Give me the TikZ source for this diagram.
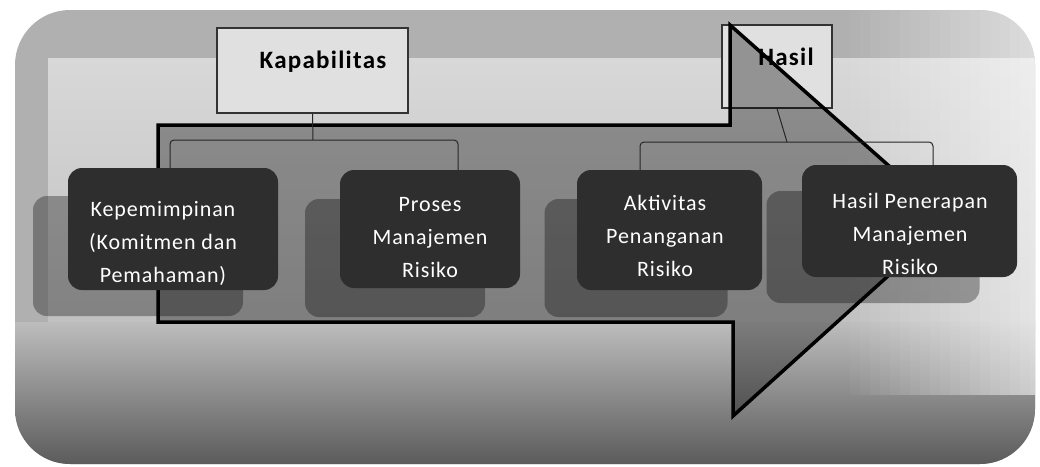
\documentclass[tikz,border=0pt]{standalone}
\usepackage{fontspec}
\setmainfont{Carlito}
\newfontfamily\boxfont[LetterSpace=4]{Carlito}
\newfontfamily\headfont[LetterSpace=5]{Carlito}
\usetikzlibrary{calc}
\definecolor{panelbase}{HTML}{B0B0B0}
\definecolor{panelA}{HTML}{D8D8D8}
\definecolor{panelB}{HTML}{C0C0C0}
\definecolor{panelC}{HTML}{BDBDBD}
\definecolor{panelD}{HTML}{5A5A5A}
\definecolor{boxdark}{HTML}{2E2E2E}
\definecolor{headfill}{HTML}{E0E0E0}
\begin{document}
\begin{tikzpicture}[x=1pt,y=1pt,
  box/.style={fill=boxdark, rounded corners=14pt, inner sep=0pt, minimum width=#1},
  shadowbox/.style={fill=black, fill opacity=0.32, rounded corners=14pt, inner sep=0pt},
  boxtext/.style={text=white, align=center, inner sep=0pt, font=\boxfont\fontsize{22}{33}\selectfont},
  headbox/.style={draw=black!80, line width=1.4pt, fill=headfill, inner sep=0pt},
  headtext/.style={inner sep=0pt, text=black, font=\headfont\fontsize{25}{28}\selectfont\bfseries},
  conn/.style={draw=black!85, line width=1pt, rounded corners=4pt},
  arrowshape/.style={fill=black, fill opacity=0.34, draw=black, draw opacity=1, line width=3.5pt, line join=miter}
]
\useasboundingbox (0,0) rectangle (1040,-466);

% background panel
\begin{scope}
  \clip[rounded corners=55pt] (15,-10) -- (1035,-10) -- (1035,-464) -- (15,-464) -- cycle;
  \fill[panelbase] (0,0) rectangle (1040,-466);
  \shade[top color=panelA, bottom color=panelB] (48,-58) rectangle (1040,-330);
  \shade[top color=panelC, bottom color=panelD] (0,-322) rectangle (1040,-466);
  \foreach \i in {0,...,19}{
    \fill[white, fill opacity=0.03*\i] (840+10*\i,0) rectangle (850+10*\i,-395);
  }
\end{scope}

% Hasil header box (under the arrow)
\node[headbox, minimum width=110pt, minimum height=83pt] (has) at (777,-66.5) {};
\node[headtext] (hastx) at (786,-57) {Hasil};

% box shadows
\node[shadowbox, minimum width=210pt, minimum height=120pt] (s1) at (138,-256) {};
\node[shadowbox, minimum width=180pt, minimum height=118pt] (s2) at (395,-258) {};
\node[shadowbox, minimum width=183pt, minimum height=118pt] (s3) at (636,-258) {};
\node[shadowbox, minimum width=213pt, minimum height=112pt] (s4) at (873,-247) {};

% big arrow
\draw[arrowshape] (158,-125) -- (730,-125) -- (730,-25) -- (950,-220) -- (733,-416) -- (733,-322) -- (158,-322) -- cycle;

% Kapabilitas header box
\node[headbox, minimum width=191pt, minimum height=85pt] (kap) at (312.5,-70.5) {};
\node[headtext] (kaptx) at (323,-62) {Kapabilitas};

% bracket connectors
\coordinate (kj) at (313,-140);
\coordinate (k1) at (170,-170);
\coordinate (k2) at (458,-170);
\draw[conn] (k1) |- (kj) -| (k2);
\draw[conn] (kap.south) -- (kj);
\coordinate (hj) at (787,-142);
\coordinate (h1) at (640,-170);
\coordinate (h2) at (933,-170);
\draw[conn] (h1) |- (hj) -| (h2);
\draw[conn] (has.south) -- (hj);

% dark boxes
\node[box=210pt, minimum height=122pt] (b1) at (173,-229) {};
\node[box=180pt, minimum height=118pt] (b2) at (430,-229) {};
\node[box=185pt, minimum height=120pt] (b3) at (669.5,-230) {};
\node[box=215pt, minimum height=112pt] (b4) at (909.5,-221) {};

\node[boxtext] (t1) at (163,-243) {Kepemimpinan\\(Komitmen dan\\Pemahaman)};
\node[boxtext] (t2) at (430,-238) {Proses\\Manajemen\\Risiko};
\node[boxtext] (t3) at (665,-236) {Aktivitas\\Penanganan\\Risiko};
\node[boxtext] (t4) at (910,-234) {Hasil Penerapan\\Manajemen\\Risiko};
\end{tikzpicture}
\end{document}
